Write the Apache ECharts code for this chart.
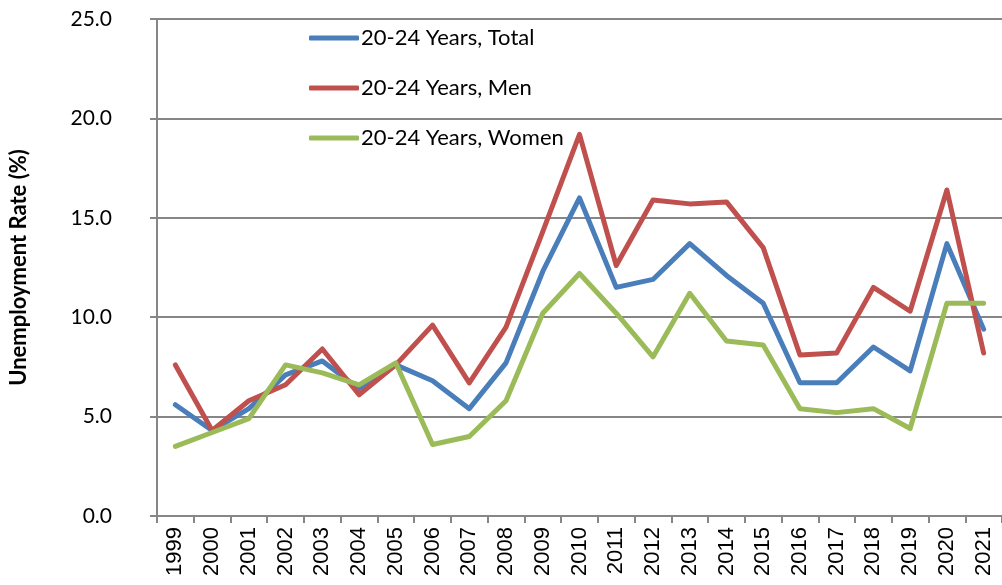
<!DOCTYPE html>
<html><head><meta charset="utf-8">
<script src="https://cdn.jsdelivr.net/npm/echarts@6/dist/echarts.min.js"></script>
<style>html,body{margin:0;padding:0;background:#fff}#c{width:1002px;height:585px}</style>
</head><body><div id="c"></div>
<script>
const years = ['1999','2000','2001','2002','2003','2004','2005','2006','2007','2008','2009','2010','2011','2012','2013','2014','2015','2016','2017','2018','2019','2020','2021'];
const total = [5.6,4.3,5.4,7.1,7.8,6.4,7.6,6.8,5.4,7.7,12.3,16.0,11.5,11.9,13.7,12.1,10.7,6.7,6.7,8.5,7.3,13.7,9.4];
const men   = [7.6,4.3,5.8,6.6,8.4,6.1,7.6,9.6,6.7,9.5,14.3,19.2,12.6,15.9,15.7,15.8,13.5,8.1,8.2,11.5,10.3,16.4,8.2];
const women = [3.5,4.2,4.9,7.6,7.2,6.6,7.7,3.6,4.0,5.8,10.2,12.2,10.2,8.0,11.2,8.8,8.6,5.4,5.2,5.4,4.4,10.7,10.7];
const seriesNames = ['20-24 Years, Total','20-24 Years, Men','20-24 Years, Women'];
const colors = ['#4A7EBB','#C0504D','#9BBB59'];
const yTitle = 'Unemployment Rate (%)';

const chart = echarts.init(document.getElementById('c'), null, {renderer:'canvas'});
const mk = (name, data, color) => ({
  name, type:'line', data, symbol:'none', smooth:false,
  lineStyle:{color, width:5, cap:'round', join:'round'}, itemStyle:{color}
});
chart.setOption({
  animation:false,
  color: colors,
  grid:{left:154, right:-3, top:19, bottom:69, containLabel:false},
  legend:{
    orient:'vertical', left:304, top:22, itemGap:28,
    icon:'roundRect', itemWidth:50, itemHeight:5,
    textStyle:{fontFamily:'Lato', fontSize:22, color:'#000', padding:[0,0,0,-3]},
    data: seriesNames
  },
  xAxis:{
    type:'category', data:years, boundaryGap:true,
    axisLine:{lineStyle:{color:'#868686', width:2}},
    axisTick:{show:true, length:7, lineStyle:{color:'#868686', width:2}},
    axisLabel:{rotate:90, margin:11, fontFamily:'Liberation Sans', fontSize:22, color:'#000'}
  },
  yAxis:{
    type:'value', min:0, max:25, interval:5,
    name:yTitle, nameLocation:'middle', nameGap:127, nameRotate:90,
    nameTextStyle:{fontFamily:'Lato', fontWeight:'bold', fontSize:22, color:'#000'},
    axisLine:{show:true, lineStyle:{color:'#868686', width:2}},
    axisTick:{show:true, length:7, lineStyle:{color:'#868686', width:2}},
    axisLabel:{margin:45, align:'right', fontFamily:'Lato', fontSize:21, color:'#000', formatter:v=>v.toFixed(1)},
    splitLine:{show:true, lineStyle:{color:'#868686', width:2}}
  },
  series:[mk(seriesNames[0], total, colors[0]), mk(seriesNames[1], men, colors[1]), mk(seriesNames[2], women, colors[2])]
});
</script></body></html>
